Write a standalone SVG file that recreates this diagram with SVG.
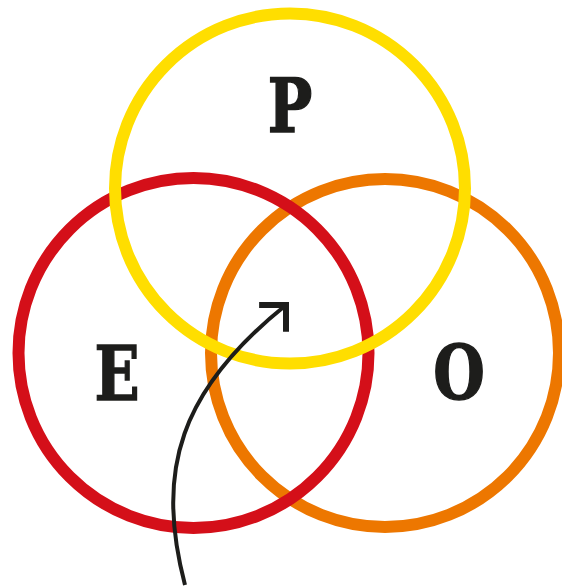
<svg xmlns="http://www.w3.org/2000/svg" width="562" height="587" viewBox="0 0 562 587">
  <style>
    .ring { fill: none; stroke-width: 12; }
    .lbl { font-family: "DejaVu Serif", "Liberation Serif", serif; font-weight: bold; font-size: 74px; fill: #1d1d1b; stroke: #1d1d1b; stroke-width: 1.5; text-anchor: middle; }
    .conn { fill: none; stroke: #1d1d1b; stroke-width: 4; }
  </style>
  <defs>
    <marker id="chev" markerUnits="userSpaceOnUse" viewBox="-30 -30 40 40" markerWidth="40" markerHeight="40" refX="0" refY="0" orient="-45" overflow="visible">
      <path d="M-19,-19 L0,0 L-19,19" fill="none" stroke="#1d1d1b" stroke-width="6" stroke-linecap="butt" stroke-linejoin="miter"/>
    </marker>
  </defs>
  <rect width="562" height="587" fill="#ffffff"/>
  <g id="node-O">
    <circle class="ring" cx="385" cy="353" r="174" stroke="#ED7700"/>
    <text class="lbl" transform="translate(459,399) scale(0.8,1)" x="0" y="0">O</text>
  </g>
  <g id="node-E">
    <circle class="ring" cx="193.5" cy="353" r="175" stroke="#D40F19"/>
    <text class="lbl" transform="translate(117,400) scale(0.8,1)" x="0" y="0">E</text>
  </g>
  <g id="node-P">
    <circle class="ring" cx="290" cy="188.5" r="175" stroke="#FFDE00"/>
    <text class="lbl" transform="translate(290,132) scale(0.8,1)" x="0" y="0">P</text>
  </g>
  <g id="connectors">
    <path class="conn" d="M185,585 C155,470 180,390 286,305" marker-end="url(#chev)"/>
  </g>
</svg>
